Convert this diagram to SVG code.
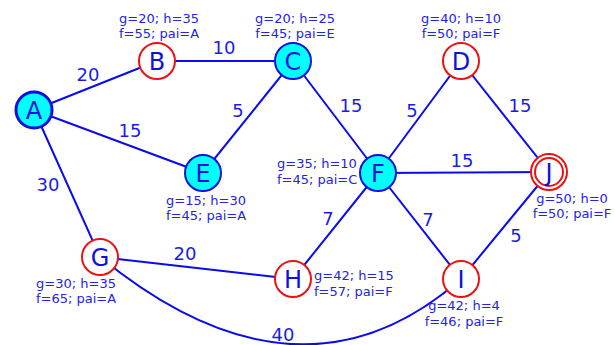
<svg xmlns="http://www.w3.org/2000/svg" width="615" height="345" viewBox="0 0 615 345">
<style>
.e{stroke:#0a0aee;stroke-width:2;fill:none}
.el{font-family:"DejaVu Sans",sans-serif;font-size:18px;fill:#1a1aee;text-anchor:middle}
.an{font-family:"DejaVu Sans",sans-serif;font-size:13px;fill:#2222ee}
.m{text-anchor:middle}
.lt{font-family:"DejaVu Sans",sans-serif;font-size:24px;fill:#1010dd;text-anchor:middle}
.open{fill:#ffffff;stroke:#ee1111;stroke-width:2}
.cl{fill:#00ffff;stroke:#1010dd;stroke-width:2}
</style>
<rect width="615" height="345" fill="#ffffff"/>
<g id="connectors">
<line class="e" x1="34" y1="110" x2="157" y2="61"/>
<line class="e" x1="157" y1="61" x2="293" y2="61"/>
<line class="e" x1="34" y1="110" x2="203" y2="173"/>
<line class="e" x1="293" y1="61" x2="203" y2="173"/>
<line class="e" x1="34" y1="110" x2="100" y2="257"/>
<line class="e" x1="293" y1="61" x2="378" y2="173"/>
<line class="e" x1="378" y1="173" x2="461" y2="61"/>
<line class="e" x1="461" y1="61" x2="549" y2="172"/>
<line class="e" x1="378" y1="173" x2="549" y2="172"/>
<line class="e" x1="378" y1="173" x2="293" y2="279"/>
<line class="e" x1="378" y1="173" x2="461" y2="279"/>
<line class="e" x1="461" y1="279" x2="549" y2="172"/>
<line class="e" x1="100" y1="257" x2="293" y2="279"/>
<path class="e" d="M100,257 Q300,420 461,279"/>
<text class="el" x="88" y="81">20</text>
<text class="el" x="224" y="54">10</text>
<text class="el" x="130" y="137">15</text>
<text class="el" x="238" y="117">5</text>
<text class="el" x="48" y="191">30</text>
<text class="el" x="351" y="112">15</text>
<text class="el" x="412" y="117">5</text>
<text class="el" x="520" y="112">15</text>
<text class="el" x="462" y="167">15</text>
<text class="el" x="185" y="260">20</text>
<text class="el" x="328" y="225">7</text>
<text class="el" x="428" y="226">7</text>
<text class="el" x="516" y="242">5</text>
<text class="el" x="283" y="341">40</text>
</g>
<g id="A">
<circle cx="34" cy="110" r="18" fill="#00ffff" stroke="#1010dd" stroke-width="3"/>
<text class="lt" x="34" y="119">A</text>
</g>
<g id="B">
<circle class="open" cx="157" cy="61" r="18"/>
<text class="lt" x="157" y="70">B</text>
<text class="an m" x="159" y="23">g=20; h=35</text>
<text class="an m" x="159" y="38">f=55; pai=A</text>
</g>
<g id="C">
<circle class="cl" cx="293" cy="61" r="18"/>
<text class="lt" x="293" y="70">C</text>
<text class="an m" x="295" y="23">g=20; h=25</text>
<text class="an m" x="295" y="38">f=45; pai=E</text>
</g>
<g id="D">
<circle class="open" cx="461" cy="61" r="18"/>
<text class="lt" x="461" y="70">D</text>
<text class="an m" x="461" y="23">g=40; h=10</text>
<text class="an m" x="461" y="38">f=50; pai=F</text>
</g>
<g id="E">
<circle class="cl" cx="203" cy="173" r="18"/>
<text class="lt" x="203" y="182">E</text>
<text class="an m" x="206" y="205">g=15; h=30</text>
<text class="an m" x="206" y="220">f=45; pai=A</text>
</g>
<g id="F">
<circle class="cl" cx="378" cy="173" r="18"/>
<text class="lt" x="378" y="182">F</text>
<text class="an" x="277" y="168">g=35; h=10</text>
<text class="an" x="277" y="184">f=45; pai=C</text>
</g>
<g id="J">
<circle class="open" cx="549" cy="172" r="18"/>
<circle class="open" cx="549" cy="172" r="14"/>
<text class="lt" x="549" y="181">J</text>
<text class="an m" x="572" y="203">g=50; h=0</text>
<text class="an m" x="572" y="218">f=50; pai=F</text>
</g>
<g id="G">
<circle class="open" cx="100" cy="257" r="18"/>
<text class="lt" x="100" y="266">G</text>
<text class="an m" x="76" y="288">g=30; h=35</text>
<text class="an m" x="76" y="303">f=65; pai=A</text>
</g>
<g id="H">
<circle class="open" cx="293" cy="279" r="18"/>
<text class="lt" x="293" y="288">H</text>
<text class="an" x="314" y="280">g=42; h=15</text>
<text class="an" x="314" y="296">f=57; pai=F</text>
</g>
<g id="I">
<circle class="open" cx="461" cy="279" r="18"/>
<text class="lt" x="461" y="288">I</text>
<text class="an m" x="464" y="310">g=42; h=4</text>
<text class="an m" x="464" y="326">f=46; pai=F</text>
</g>
</svg>
